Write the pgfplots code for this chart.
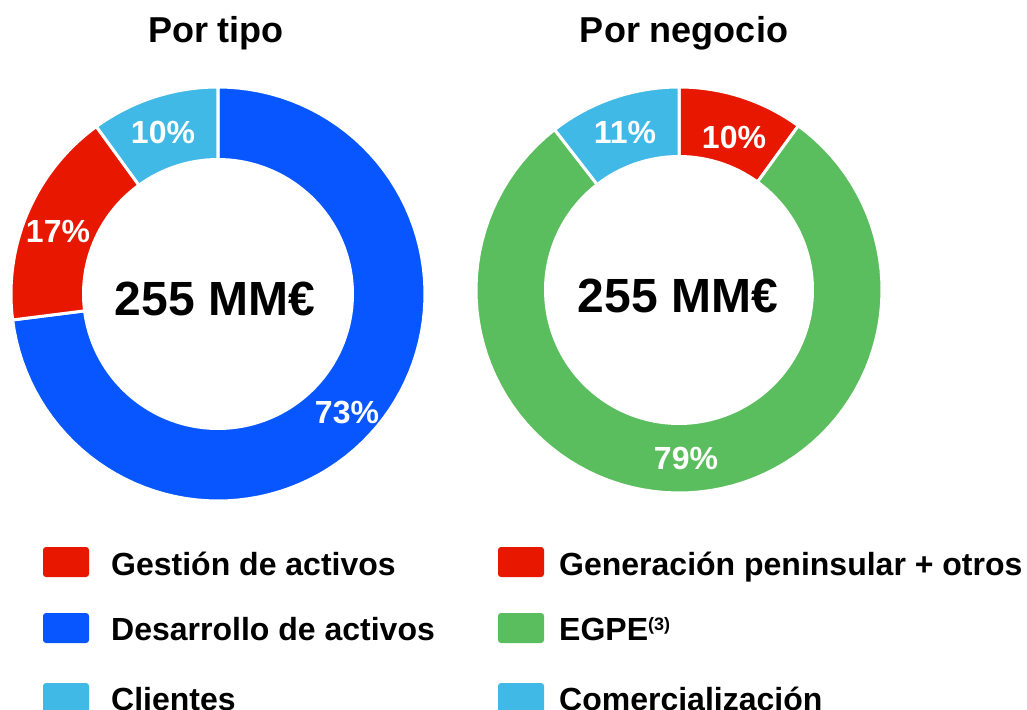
\documentclass[border=0pt]{standalone}
\usepackage{fontspec}
\setmainfont{Liberation Sans}
\usepackage{pgfplots}
\pgfplotsset{compat=1.18}
\definecolor{cred}{RGB}{232,24,0}
\definecolor{cblue}{RGB}{8,86,255}
\definecolor{ccyan}{RGB}{64,185,230}
\definecolor{cgreen}{RGB}{91,190,94}
\newcommand{\sector}[6]{%
  \addplot[fill=#6, draw=white, line width=3pt, line join=round, domain=#4:#5, samples=90, variable=\t]
    ({#1+#3*sin(3.6*\t)},{#2-#3*cos(3.6*\t)}) -- (axis cs:#1,#2) -- cycle;}
\newcommand{\hole}[3]{%
  \addplot[fill=white, draw=none, domain=0:100, samples=150, variable=\t]
    ({#1+#3*sin(3.6*\t)},{#2-#3*cos(3.6*\t)}) -- cycle;}
\newcommand{\legbox}[3]{%
  \addplot[fill=#3, draw=none, rounded corners=3pt]
    coordinates {(#1,#2) (#1+46,#2) (#1+46,#2+30) (#1,#2+30)} -- cycle;}
\begin{document}
\begin{tikzpicture}
\begin{axis}[name=ax, scale only axis, width=1027pt, height=709pt,
  xmin=0, xmax=1027, ymin=0, ymax=709, y dir=reverse, hide axis, clip=false,
  no markers]
% Left donut: Por tipo
\sector{218}{294}{207}{0}{73}{cblue}
\sector{218}{294}{207}{73}{90}{cred}
\sector{218}{294}{207}{90}{100}{ccyan}
\hole{218}{294}{136}
% Right donut: Por negocio
\sector{679}{290}{203}{0}{10}{cred}
\sector{679}{290}{203}{10}{89.5}{cgreen}
\sector{679}{290}{203}{89.5}{100}{ccyan}
\hole{679}{290}{135}
% Legend boxes
\legbox{43}{547}{cred}
\legbox{43}{613}{cblue}
\legbox{43}{683}{ccyan}
\legbox{498}{547}{cred}
\legbox{498}{613}{cgreen}
\legbox{498}{683}{ccyan}
% Titles
\node[font=\fontsize{36}{40}\selectfont\bfseries, anchor=base] at (axis cs:216,43) {Por tipo};
\node[font=\fontsize{36}{40}\selectfont\bfseries, anchor=base] at (axis cs:684,43) {Por negocio};
% Centers
\node[font=\fontsize{48}{54}\selectfont\bfseries, anchor=base] at (axis cs:215,315) {255 MM€};
\node[font=\fontsize{48}{54}\selectfont\bfseries, anchor=base] at (axis cs:678,312) {255 MM€};
% Percent labels
\begin{scope}[every node/.style={font=\fontsize{32}{36}\selectfont\bfseries, text=white, anchor=base, inner sep=0pt}]
\node at (axis cs:163,143) {10\%};
\node at (axis cs:58,242) {17\%};
\node at (axis cs:347,423) {73\%};
\node at (axis cs:625,143) {11\%};
\node at (axis cs:734,148) {10\%};
\node at (axis cs:686,469) {79\%};
\end{scope}
% Legend texts
\begin{scope}[every node/.style={font=\fontsize{32}{36}\selectfont\bfseries, anchor=base west, inner sep=0pt}]
\node at (axis cs:111,575) {Gestión de activos};
\node at (axis cs:111,640) {Desarrollo de activos};
\node at (axis cs:111,710) {Clientes};
\node at (axis cs:559,575) {Generación peninsular + otros};
\node at (axis cs:559,640) {EGPE\raisebox{10pt}{\fontsize{18}{20}\selectfont(3)}};
\node at (axis cs:559,710) {Comercialización};
\end{scope}
\end{axis}
\pgfresetboundingbox
\path[use as bounding box] (ax.south west) rectangle (ax.north east);
\end{tikzpicture}
\end{document}
